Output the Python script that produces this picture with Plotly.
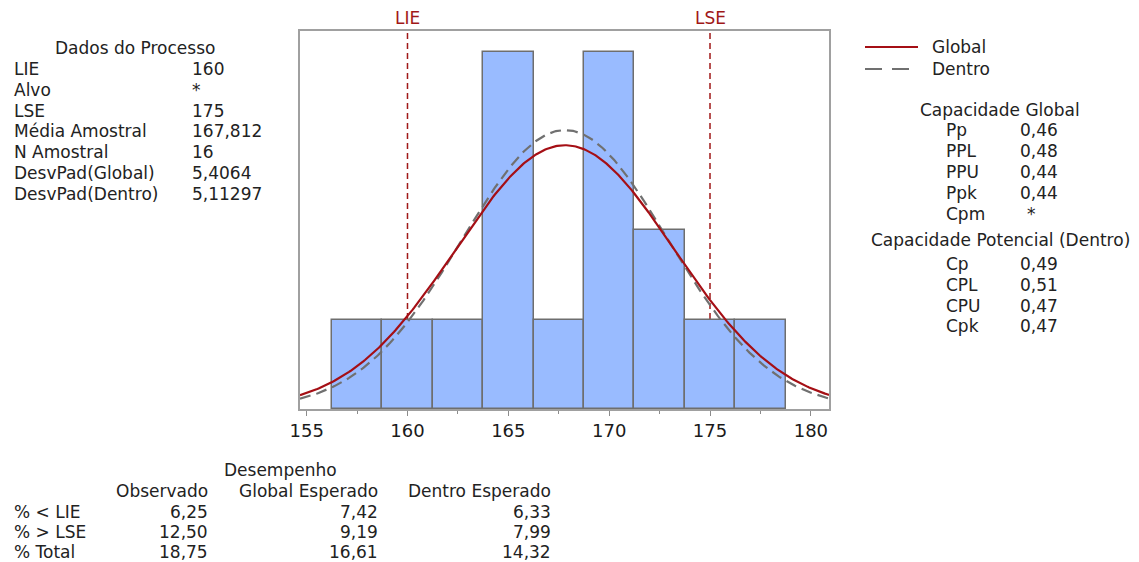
import numpy as np
import plotly.graph_objects as go

# ---------------- data ----------------
bin_mids = [157.5, 160.0, 162.5, 165.0, 167.5, 170.0, 172.5, 175.0, 177.5]
bin_counts = [1, 1, 1, 4, 1, 4, 2, 1, 1]
bin_width = 2.5
LIE = 160
LSE = 175
mean_sample = 167.812
n_sample = 16
sd_global = 5.4064
sd_within = 5.11297

x_ticks = [155, 160, 165, 170, 175, 180]
x_minor_ticks = [157.5, 162.5, 167.5, 172.5, 177.5]

proc_labels = ["LIE", "Alvo", "LSE", "Média Amostral", "N Amostral", "DesvPad(Global)", "DesvPad(Dentro)"]
proc_values = ["160", "*", "175", "167,812", "16", "5,4064", "5,11297"]

glob_labels = ["Pp", "PPL", "PPU", "Ppk", "Cpm"]
glob_values = ["0,46", "0,48", "0,44", "0,44", "*"]

pot_labels = ["Cp", "CPL", "CPU", "Cpk"]
pot_values = ["0,49", "0,51", "0,47", "0,47"]

perf_cols = ["Observado", "Global Esperado", "Dentro Esperado"]
perf_rows = ["% < LIE", "% > LSE", "% Total"]
perf_obs = ["6,25", "12,50", "18,75"]
perf_glob = ["7,42", "9,19", "16,61"]
perf_dentro = ["6,33", "7,99", "14,32"]

# ---------------- layout geometry ----------------
W, H = 1139, 562
PL, PR, PT, PB = 300, 829, 31, 409
XR = [154.67, 180.9]
YR = [0, 4.23]
FONT = "DejaVu Sans"
TXT = "#222222"
FS = 17


def px(x):
    return (x - PL) / (PR - PL)


def py(y):
    return (PB - y) / (PB - PT)


fig = go.Figure()

fig.add_trace(go.Bar(
    x=bin_mids, y=bin_counts, width=[bin_width] * len(bin_mids),
    marker=dict(color="#99BBFF", line=dict(color="#6E6E6E", width=1.5)),
    showlegend=False, hoverinfo="x+y",
))

xs = np.linspace(XR[0], XR[1], 400)
scale = n_sample * bin_width


def npdf(x, m, s):
    return np.exp(-0.5 * ((x - m) / s) ** 2) / (s * np.sqrt(2 * np.pi))


fig.add_trace(go.Scatter(
    x=xs, y=scale * npdf(xs, mean_sample, sd_within), mode="lines",
    line=dict(color="#707070", width=2.2, dash="11px,6px"), showlegend=False,
))
fig.add_trace(go.Scatter(
    x=xs, y=scale * npdf(xs, mean_sample, sd_global), mode="lines",
    line=dict(color="#A50F15", width=2.2), showlegend=False,
))

# spec limit lines (below bars)
for v, name in [(LIE, "LIE"), (LSE, "LSE")]:
    fig.add_shape(type="line", xref="x", yref="y", x0=v, x1=v, y0=0, y1=YR[1],
                  line=dict(color="#A01818", width=1.5, dash="6px,4px"), layer="below")
    fig.add_annotation(x=v, xref="x", y=py(18), yref="paper", text=name, showarrow=False,
                       xanchor="center", yanchor="middle",
                       font=dict(family=FONT, size=17, color="#A01818"))

annots = []


def txt(x, y, s, anchor="left", size=FS, color=TXT):
    annots.append(dict(x=px(x), y=py(y), xref="paper", yref="paper", text=s,
                       showarrow=False, xanchor=anchor, yanchor="middle",
                       font=dict(family=FONT, size=size, color=color)))


# left block
txt(135, 48, "Dados do Processo", "center")
for i, (l, v) in enumerate(zip(proc_labels, proc_values)):
    y = 69 + i * 20.8
    txt(12, y, l)
    txt(190, y, v)

# legend
fig.add_shape(type="line", xref="paper", yref="paper", x0=px(865), x1=px(918), y0=py(47), y1=py(47),
              line=dict(color="#A50F15", width=2.2))
fig.add_shape(type="line", xref="paper", yref="paper", x0=px(865), x1=px(909), y0=py(69), y1=py(69),
              line=dict(color="#707070", width=2.2, dash="17px,10px"))
txt(930, 47, "Global")
txt(930, 69, "Dentro")

# right block
txt(1000, 110, "Capacidade Global", "center")
for i, (l, v) in enumerate(zip(glob_labels, glob_values)):
    y = 130 + i * 20.9
    txt(944, y, l)
    txt(1018 if v != "*" else 1025, y, v)
txt(1000, 240, "Capacidade Potencial (Dentro)", "center")
for i, (l, v) in enumerate(zip(pot_labels, pot_values)):
    y = 264 + i * 20.8
    txt(944, y, l)
    txt(1018, y, v)

# bottom block
txt(280, 470, "Desempenho", "center")
col_right = [210, 380, 553]
for c, xr in zip(perf_cols, col_right):
    txt(xr, 491, c, "right")
for i, r in enumerate(perf_rows):
    y = 512 + i * 20
    txt(12, y, r)
    txt(col_right[0], y, perf_obs[i], "right")
    txt(col_right[1], y, perf_glob[i], "right")
    txt(col_right[2], y, perf_dentro[i], "right")

for a in annots:
    fig.add_annotation(**a)

fig.update_layout(
    width=W, height=H,
    margin=dict(l=PL, r=W - PR, t=PT, b=H - PB, autoexpand=False),
    paper_bgcolor="white", plot_bgcolor="white",
    bargap=0, showlegend=False,
    font=dict(family=FONT, color=TXT),
)
fig.update_xaxes(
    range=XR, tickvals=x_ticks, ticks="outside", ticklen=5, tickwidth=1.2, tickcolor="#8C8C8C",
    tickfont=dict(family=FONT, size=18, color="#1A1A1A"),
    showgrid=False, zeroline=False, showline=True, mirror=True, linecolor="#A0A0A0", linewidth=1.5,
    minor=dict(tickvals=x_minor_ticks, ticks="outside", ticklen=3,
               tickcolor="#8C8C8C", showgrid=False),
)
fig.update_yaxes(
    range=YR, showticklabels=False, ticks="", showgrid=False, zeroline=False,
    showline=True, mirror=True, linecolor="#A0A0A0", linewidth=1.5,
)

fig.write_html(
    "out.html",
    config={"displayModeBar": False},
    post_script="document.body.style.margin='0';document.body.style.padding='0';"
                "document.body.style.overflow='hidden';",
)
